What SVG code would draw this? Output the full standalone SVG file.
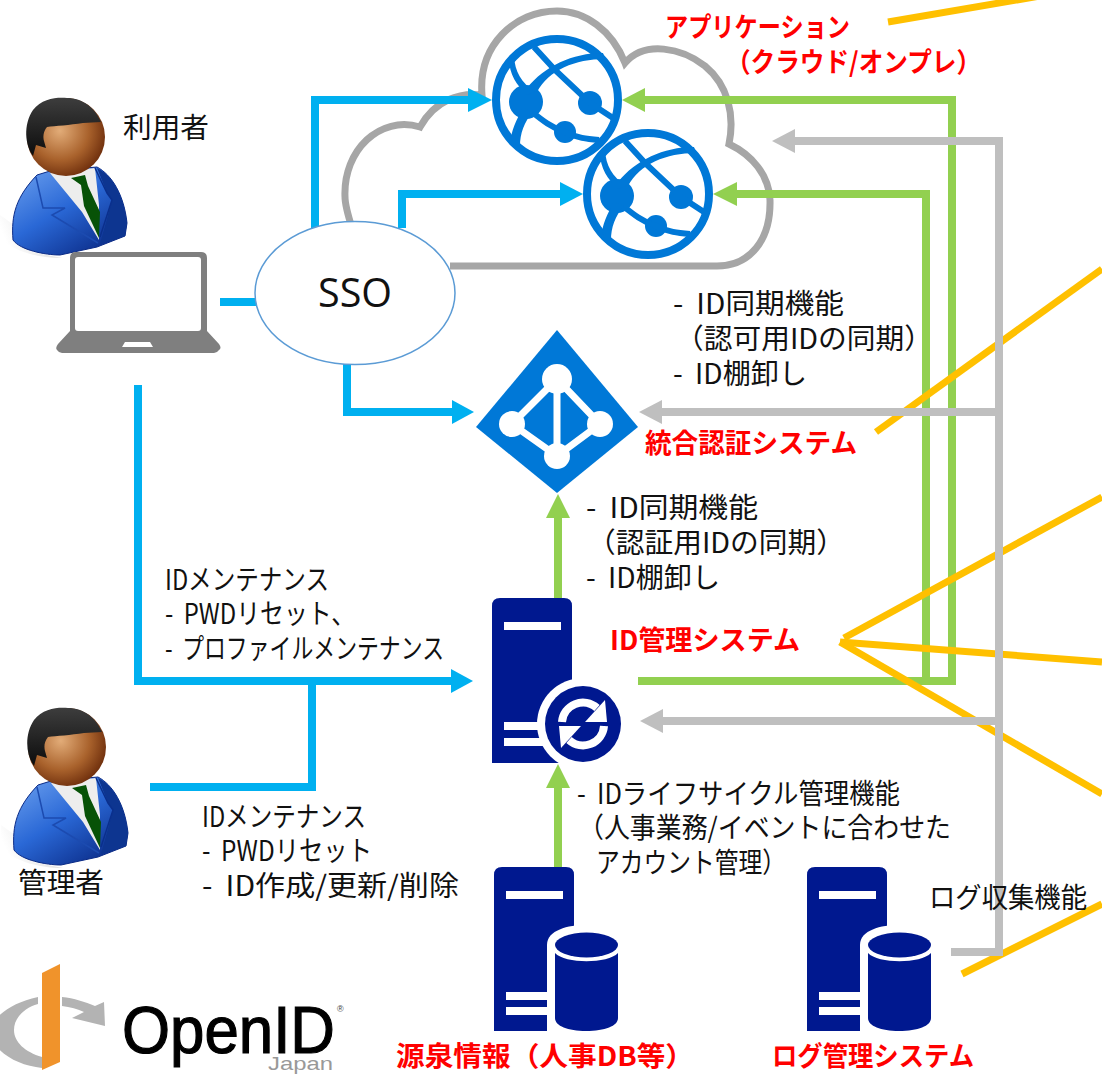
<svg xmlns="http://www.w3.org/2000/svg" xmlns:xlink="http://www.w3.org/1999/xlink" width="1102" height="1074" viewBox="0 0 1102 1074">
<style>
text{font-family:"Noto Sans CJK JP","Noto Sans",sans-serif;fill:#111}
.t{font-size:28px;word-spacing:6px}
.r{font-size:27px;font-weight:700;fill:#f00}
.ln{fill:none;stroke-width:8;stroke-linejoin:miter}
.bl{stroke:#00B0F0}.gn{stroke:#92D050}.gy{stroke:#BFBFBF}.ye{stroke:#FFC000;stroke-width:7;fill:none}
.fbl{fill:#00B0F0}.fgn{fill:#92D050}.fgy{fill:#BFBFBF}
.srv{fill:#00188F}.wh{fill:#fff}
.gl{fill:none;stroke:#0078D7;stroke-width:6}
</style>
<defs>
<radialGradient id="skin" cx="0.42" cy="0.42" r="0.62"><stop offset="0" stop-color="#E2AC78"/><stop offset="0.6" stop-color="#A9622C"/><stop offset="1" stop-color="#6E2E0C"/></radialGradient>
<linearGradient id="hair" x1="0" y1="0" x2="0" y2="1"><stop offset="0" stop-color="#3D3D3D"/><stop offset="1" stop-color="#0C0C0C"/></linearGradient>
<linearGradient id="suit" x1="0" y1="0" x2="0.8" y2="1"><stop offset="0" stop-color="#6FA3F0"/><stop offset="0.5" stop-color="#2A68D6"/><stop offset="1" stop-color="#0A2A86"/></linearGradient>
<linearGradient id="shade" x1="1" y1="0" x2="0" y2="0.3"><stop offset="0" stop-color="#D4D4D4"/><stop offset="1" stop-color="#fff"/></linearGradient>
<g id="person">
<path d="M0,215 L14,225 L14,240 L32,252 L62,258 C35,258 12,250 0,238Z" fill="url(#shade)"/>
<path d="M13,240 C11,215 16,197 37,175 L50,171 L97,167 C112,175 124,195 127,223 L125,236 L97,247 L60,255 C45,255 20,250 13,240Z" fill="url(#suit)" stroke="#0A2A86" stroke-width="1"/>
<path d="M97,168 C112,175 124,195 127,223 L125,236 L100,244 L112,200 L107,193Z" fill="#0D3590"/>
<path d="M50,173 L95,168 L99,205 L99,240 L82,212Z" fill="#EDEDED"/>
<path d="M71,178 L85,175 L88,186 L100,212 L99,238 L84,206 L81,185Z" fill="#075207"/>
<path d="M36,177 L43,208 L65,208 L52,215 L98,243" fill="none" stroke="#1C4BB0" stroke-width="1.5"/>
<path d="M95,168 L107,193 L112,200 L100,237" fill="none" stroke="#0A2F8C" stroke-width="1.5"/>
<circle cx="66" cy="137" r="39" fill="url(#skin)"/>
<path d="M33,156 C25,145 23,125 33,110 C42,98 58,97 67,98 C83,98 95,108 101,122 L83,123 C70,125 55,126 47,127 C43,132 43,137 44,141 L46,148 L36,145Z" fill="url(#hair)"/>
</g>
<g id="globe">
<circle r="61" fill="#fff" stroke="#0078D7" stroke-width="8"/>
<circle cx="-31" cy="2" r="17" fill="#0078D7"/><circle cx="33" cy="3" r="12" fill="#0078D7"/><circle cx="8" cy="32" r="11" fill="#0078D7"/>
<path class="gl" d="M-23,-53 L-2,-30 L33,3 L56,18"/>
<path d="M-30,-12 C-12,-34 15,-47 46,-47 L48,-41 C18,-41 -8,-30 -20,-8Z" fill="#0078D7"/>
<path class="gl" d="M-25,12 C-15,20 -5,28 8,32 C20,38 30,39 42,40"/>
<path d="M-30,-5 C-40,-15 -48,-25 -48,-42 L-43,-44 C-42,-28 -36,-18 -22,-8Z" fill="#0078D7"/>
<path d="M-34,8 C-41,20 -46,32 -46,40 L-37,46 C-37,34 -33,22 -24,12Z" fill="#0078D7"/>
</g>
<g id="dbserver">
<path class="srv" d="M494,1031 V875 Q494,867 502,867 H566 Q574,867 574,875 V1031Z"/>
<rect class="wh" x="506" y="891" width="57" height="8"/>
<rect class="wh" x="506" y="992" width="50" height="8"/><rect class="wh" x="506" y="1007" width="50" height="8"/>
<path class="wh" d="M547,1031 V945 C547,930 568,925 586,925 C610,925 626,932 626,945 V1031Z"/>
<path class="srv" d="M555,953 C565,964 608,964 618,953 V1018 C618,1026 605,1031 586,1031 C568,1031 555,1026 555,1018Z"/>
<ellipse class="srv" cx="586.500" cy="945" rx="31.500" ry="12.500"/>
</g>
</defs>
<rect width="1102" height="1074" fill="#fff"/>

<g id="cloud" fill="none" stroke="#A6A6A6" stroke-width="7">
<path d="M450,266 H717 C750,266 771,240 770,200 C769,175 752,155 729,144 C735,115 728,85 705,66 C682,48 645,40 625,63 C612,30 585,11 557,11 C515,11 478,45 482,95 C460,92 435,100 420,127 C380,115 343,150 345,197 C345,205 347,212 352,228"/>
</g>

<g id="connectors">
<path class="ln bl" d="M220,302 H258"/>
<path class="ln bl" d="M315,228 V100 H470"/><polygon class="fbl" points="492,100 468,88 468,112"/>
<path class="ln bl" d="M402,228 V194 H562"/><polygon class="fbl" points="583,194 560,182 560,206"/>
<path class="ln bl" d="M347,360 V412 H455"/><polygon class="fbl" points="474,412 452,400 452,424"/>
<path class="ln bl" d="M138,385 V681 H455"/><polygon class="fbl" points="473,681 451,669 451,693"/>
<path class="ln bl" d="M150,787 H312 V681"/>
<path class="ln gn" d="M638,681 H952 V100 H642"/><polygon class="fgn" points="622,100 645,88 645,112"/>
<path class="ln gn" d="M926,681 V194 H733"/><polygon class="fgn" points="713,194 737,182 737,206"/>
<path class="ln gn" d="M558,598 V515"/><polygon class="fgn" points="558,494 546,518 570,518"/>
<path class="ln gn" d="M558,868 V785"/><polygon class="fgn" points="558,764 546,788 570,788"/>
<path class="ye" d="M888,22 L1040,-4"/>
<path class="ye" d="M876,432 L1102,269"/>
<path class="ye" d="M844,638 L1102,497"/>
<path class="ye" d="M840,642 L1102,662"/>
<path class="ye" d="M840,642 L1102,794"/>
<path class="ye" d="M962,974 L1102,904"/>
<path class="ln gy" d="M792,141 H999 V952 H951"/><polygon class="fgy" points="772,141 795,129 795,153"/>
<path class="ln gy" d="M660,412 H999"/><polygon class="fgy" points="639,412 662,400 662,424"/>
<path class="ln gy" d="M660,721 H999"/><polygon class="fgy" points="640,721 663,709 663,733"/>
</g>

<g id="user">
<use href="#person" xlink:href="#person"/>
<text class="t" x="123" y="138" textLength="86" lengthAdjust="spacingAndGlyphs">利用者</text>
</g>
<g id="laptop">
<path d="M70,331 V258 Q70,252 76,252 H201 Q207,252 207,258 V331 L219,344 Q222,348 219,350 Q217,353 214,353 H62 Q59,353 57,350 Q55,348 58,344Z" fill="#7F7F7F"/>
<rect x="75" y="257" width="126" height="74" rx="3" fill="#fff"/>
<polygon points="122,347 125,342 150,342 153,347" fill="#fff"/>
</g>
<g id="admin">
<use href="#person" xlink:href="#person" transform="translate(1,610)"/>
<text class="t" x="18" y="893" textLength="86" lengthAdjust="spacingAndGlyphs">管理者</text>
</g>
<g id="sso">
<ellipse cx="355" cy="293" rx="100" ry="71.500" fill="#fff" stroke="#5B9BD5" stroke-width="1.500"/>
<text x="318" y="307" font-size="40" textLength="74" lengthAdjust="spacingAndGlyphs" style="font-family:'Open Sans','Noto Sans',sans-serif">SSO</text>
</g>
<g id="app1"><use href="#globe" xlink:href="#globe" transform="translate(557,100)"/></g>
<g id="app2"><use href="#globe" xlink:href="#globe" transform="translate(648,194)"/></g>
<g id="app-label">
<text class="r" x="665" y="37" textLength="185" lengthAdjust="spacingAndGlyphs">アプリケーション</text>
<text class="r" x="726" y="72" textLength="255" lengthAdjust="spacingAndGlyphs">（クラウド/オンプレ）</text>
</g>

<g id="idp">
<polygon points="557,330 638,427 557,493 476,427" fill="#0078D7"/>
<path d="M557,379 L512,424 L557,456 L600,424Z M557,379 V456" fill="none" stroke="#fff" stroke-width="7"/>
<circle cx="557" cy="379" r="15" class="wh"/><circle cx="512" cy="424" r="13" class="wh"/><circle cx="600" cy="424" r="13" class="wh"/><circle cx="557" cy="456" r="13" class="wh"/>
<text class="r" x="645" y="453" textLength="212" lengthAdjust="spacingAndGlyphs">統合認証システム</text>
</g>

<g id="idm">
<path class="srv" d="M492,763 V606 Q492,598 500,598 H564 Q572,598 572,606 V763Z"/>
<rect class="wh" x="504" y="622" width="57" height="8"/>
<rect class="wh" x="504" y="722" width="50" height="8"/><rect class="wh" x="504" y="738" width="50" height="8"/>
<circle cx="583" cy="724" r="46" class="wh"/>
<circle cx="583" cy="724" r="38" class="srv"/>
<g id="sync">
<path d="M562,722 A21,21 0 0 1 597,708" fill="none" stroke="#fff" stroke-width="8"/>
<polygon class="wh" points="605,700 607,722 585,722"/>
<path d="M604,726 A21,21 0 0 1 569,740" fill="none" stroke="#fff" stroke-width="8"/>
<polygon class="wh" points="561,748 559,726 581,726"/>
</g>
<text class="r" x="610" y="650" textLength="190" lengthAdjust="spacingAndGlyphs">ID管理システム</text>
</g>

<g id="hr-db">
<use href="#dbserver" xlink:href="#dbserver"/>
<text class="r" x="396" y="1066" textLength="298" lengthAdjust="spacingAndGlyphs">源泉情報（人事DB等）</text>
</g>
<g id="log-db">
<use href="#dbserver" xlink:href="#dbserver" transform="translate(313,0)"/>
<text class="r" x="772" y="1066" textLength="202" lengthAdjust="spacingAndGlyphs">ログ管理システム</text>
</g>

<g id="labels">
<text class="t" x="673" y="314" textLength="171" lengthAdjust="spacingAndGlyphs">- ID同期機能</text>
<text class="t" x="675" y="349" textLength="258" lengthAdjust="spacingAndGlyphs">（認可用IDの同期）</text>
<text class="t" x="673" y="384" textLength="134" lengthAdjust="spacingAndGlyphs">- ID棚卸し</text>
<text class="t" x="586" y="518" textLength="172" lengthAdjust="spacingAndGlyphs">- ID同期機能</text>
<text class="t" x="587" y="553" textLength="258" lengthAdjust="spacingAndGlyphs">（認証用IDの同期）</text>
<text class="t" x="586" y="588" textLength="134" lengthAdjust="spacingAndGlyphs">- ID棚卸し</text>
<text class="t" x="165" y="590" textLength="164" lengthAdjust="spacingAndGlyphs">IDメンテナンス</text>
<text class="t" x="165" y="624" textLength="190" lengthAdjust="spacingAndGlyphs">- PWDリセット、</text>
<text class="t" x="165" y="659" textLength="279" lengthAdjust="spacingAndGlyphs">- プロファイルメンテナンス</text>
<text class="t" x="202" y="827" textLength="164" lengthAdjust="spacingAndGlyphs">IDメンテナンス</text>
<text class="t" x="202" y="861" textLength="170" lengthAdjust="spacingAndGlyphs">- PWDリセット</text>
<text class="t" x="202" y="896" textLength="257" lengthAdjust="spacingAndGlyphs">- ID作成/更新/削除</text>
<text class="t" x="577" y="804" textLength="323" lengthAdjust="spacingAndGlyphs">- IDライフサイクル管理機能</text>
<text class="t" x="578" y="838" textLength="373" lengthAdjust="spacingAndGlyphs">（人事業務/イベントに合わせた</text>
<text class="t" x="596" y="873" textLength="190" lengthAdjust="spacingAndGlyphs">アカウント管理）</text>
<text class="t" x="929" y="908" textLength="158" lengthAdjust="spacingAndGlyphs">ログ収集機能</text>
</g>

<g id="openid-logo">
<path d="M38,997 C15,1002 0,1012 -8,1024 V1040 C0,1055 20,1066 42,1068 V1057 C25,1052 14,1042 14,1030 C14,1018 24,1008 38,1004Z" fill="#B3B3B3"/>
<path d="M62,997 C74,998 85,1002 95,1006 L104,1002 L105,1026 L72,1018 L84,1012 C78,1009 70,1007 62,1006Z" fill="#B3B3B3"/>
<polygon points="42,973 60,964 60,1062 42,1070" fill="#F0932B"/>
<text x="122" y="1053" font-size="66" textLength="213" lengthAdjust="spacingAndGlyphs" stroke="#000" stroke-width="1.200" style="font-family:'Liberation Sans',Arial,sans-serif;fill:#000">OpenID</text>
<text x="337" y="1012" font-size="9" style="font-family:'Liberation Sans',Arial,sans-serif;fill:#444">®</text>
<text x="268" y="1070" font-size="19" textLength="65" lengthAdjust="spacingAndGlyphs" style="font-family:'Liberation Sans',Arial,sans-serif;fill:#999">Japan</text>
</g>
</svg>
